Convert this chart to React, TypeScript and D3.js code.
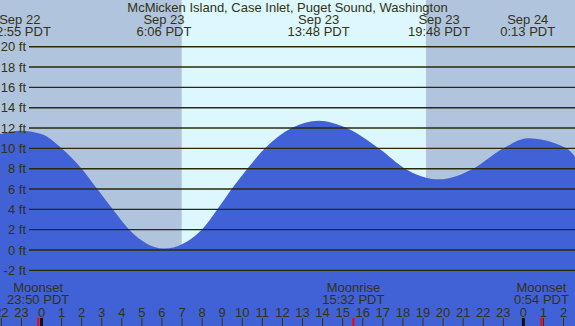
import React, { useEffect, useRef } from "react";
import * as d3 from "d3";

// hours are counted from Sep 23 0:00 PDT
const viewStart = -2.067;
const viewEnd = 26.57;

const tideHours = [-2.07, -1.08, 0, 1.0, 2.0, 2.78, 3.55, 4.37, 6.1, 7.98, 8.76, 9.47, 10.25, 11.13, 12.46, 13.8, 15.2, 16.86, 18.1, 19.8, 21.5, 23.0, 24.22, 26.15, 26.6];
const tideFeet = [11.4, 11.74, 11.4, 10.0, 8.0, 6.0, 4.0, 2.0, 0.15, 2.0, 4.0, 6.0, 8.0, 10.0, 12.0, 12.72, 12.0, 9.9, 8.0, 6.95, 8.0, 10.0, 11.0, 10.0, 9.1];

const extremeHours = [-1.083, 6.1, 13.8, 19.8, 24.217];
const extremeDates = ["Sep 22", "Sep 23", "Sep 23", "Sep 23", "Sep 24"];
const extremeTimes = ["22:55 PDT", "6:06 PDT", "13:48 PDT", "19:48 PDT", "0:13 PDT"];

const moonHours = [-0.167, 15.533, 24.9];
const moonNames = ["Moonset", "Moonrise", "Moonset"];
const moonTimes = ["23:50 PDT", "15:32 PDT", "0:54 PDT"];

const sunriseHour = 6.98;
const sunsetHour = 19.15;

const feetTicks = [-2, 0, 2, 4, 6, 8, 10, 12, 14, 16, 18, 20];
const midnights = [0, 24];

const W = 575;
const H = 326;
const textColor = "#333311";

const App = () => {
    const ref = useRef(null);

    useEffect(() => {
        document.body.style.margin = "0";
        const svg = d3.select(ref.current);
        svg.selectAll("*").remove();

        const x = d3.scaleLinear().domain([viewStart, viewEnd]).range([0, W]);
        const y = d3.scaleLinear().domain([0, 20]).range([250, 46.7]);

        // night / day background
        svg.append("rect").attr("x", 0).attr("y", 0).attr("width", W).attr("height", H).attr("fill", "#b0c4de");
        svg.append("rect")
            .attr("x", x(sunriseHour))
            .attr("y", 0)
            .attr("width", x(sunsetHour) - x(sunriseHour))
            .attr("height", H)
            .attr("fill", "#ddf7ff");

        // tide
        const points = tideHours.map((h, i) => [h, tideFeet[i]]);
        const area = d3.area()
            .x((d) => x(d[0]))
            .y0(H)
            .y1((d) => y(d[1]))
            .curve(d3.curveMonotoneX);
        svg.append("path").attr("d", area(points)).attr("fill", "#4161d6");

        // grid
        const grid = svg.append("g");
        feetTicks.forEach((f) => {
            grid.append("line")
                .attr("x1", 29).attr("x2", W)
                .attr("y1", y(f)).attr("y2", y(f))
                .attr("stroke", "#2a2a08")
                .attr("stroke-width", 1.4);
            grid.append("text")
                .attr("x", 26).attr("y", y(f))
                .attr("dy", "0.36em")
                .attr("text-anchor", "end")
                .text(f + " ft");
        });

        // title and extremes
        svg.append("text").attr("x", W / 2).attr("y", 12).attr("text-anchor", "middle")
            .text("McMicken Island, Case Inlet, Puget Sound, Washington");
        extremeHours.forEach((h, i) => {
            svg.append("text").attr("x", x(h)).attr("y", 24).attr("text-anchor", "middle").text(extremeDates[i]);
            svg.append("text").attr("x", x(h)).attr("y", 36).attr("text-anchor", "middle").text(extremeTimes[i]);
        });

        // moon
        moonHours.forEach((h, i) => {
            svg.append("text").attr("x", x(h)).attr("y", 292).attr("text-anchor", "middle").text(moonNames[i]);
            svg.append("text").attr("x", x(h)).attr("y", 304).attr("text-anchor", "middle").text(moonTimes[i]);
        });

        // hour axis
        const hours = d3.range(Math.ceil(viewStart), Math.floor(viewEnd) + 1);
        hours.forEach((h) => {
            svg.append("text").attr("x", x(h)).attr("y", 317).attr("text-anchor", "middle")
                .text(String((h + 24) % 24));
            svg.append("line")
                .attr("x1", x(h)).attr("x2", x(h))
                .attr("y1", 318).attr("y2", H)
                .attr("stroke", textColor);
        });
        midnights.forEach((h) => {
            svg.append("rect").attr("x", x(h) - 1.5).attr("y", 318).attr("width", 3).attr("height", 8).attr("fill", "#111");
        });
        moonHours.forEach((h) => {
            svg.append("rect").attr("x", x(h) - 1).attr("y", 318).attr("width", 2).attr("height", 8).attr("fill", "#ff0000");
        });

        svg.selectAll("text")
            .attr("fill", textColor)
            .style("font-family", "'Liberation Sans', Arial, sans-serif")
            .style("font-size", "13px");
    }, []);

    return <svg ref={ref} width={W} height={H} style={{ display: "block" }}></svg>;
};

export default App;
